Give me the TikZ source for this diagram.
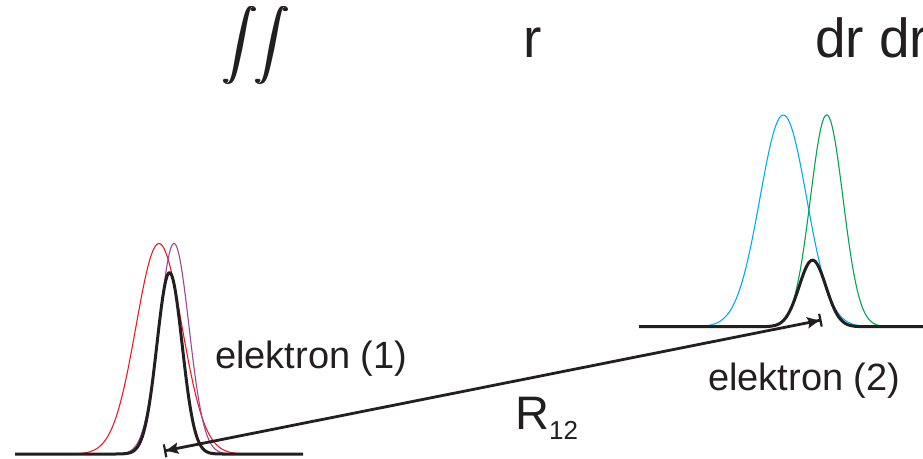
\documentclass[tikz,border=0pt]{standalone}
\usepackage{fontspec}
\setmainfont{Liberation Sans}
\usepackage{graphicx}
\usetikzlibrary{arrows.meta}
\definecolor{txt}{RGB}{35,31,32}
\definecolor{cred}{RGB}{237,28,36}
\definecolor{cpurple}{RGB}{155,70,155}
\definecolor{cblue}{RGB}{0,174,239}
\definecolor{cgreen}{RGB}{0,166,81}
\newcommand{\bigintg}{\scalebox{3.5}{$\displaystyle\int$}}
\newcommand{\boldintg}{\makebox[0pt][l]{\bigintg}\kern1.2pt\makebox[0pt][l]{\bigintg}\kern1.2pt\bigintg}
\begin{document}
\begin{tikzpicture}[x=1pt,y=-1pt,
  lbl/.style={text=txt, inner sep=0pt, anchor=base west},
  intsym/.style={text=txt, inner sep=0pt},
  thincurve/.style={line width=1.1pt},
  prod/.style={line width=3pt, draw=txt, line join=round},
  dist/.style={line width=2.8pt, draw=txt,
    {Bar[width=13pt,line width=2.2pt]Stealth[length=12pt,width=11pt,inset=2pt]}-{Stealth[length=12pt,width=11pt,inset=2pt]Bar[width=13pt,line width=2.2pt]}}]
\useasboundingbox (0,0) rectangle (923,458);

% header
\node[intsym] (int1) at (240,45.5) {\boldintg};
\node[intsym] (int2) at (272,45.5) {\boldintg};
\node[lbl] (r) at (523,57) {\fontsize{55}{60}\selectfont r};
\node[lbl] (drdr) at (815,57) {\fontsize{55}{60}\selectfont dr dr};

% left group
\draw[cred, thincurve] plot[domain=55:263, samples=140] (\x,{454-210.5*exp(-0.5*(((\x-159)/23)^2))});
\draw[cpurple, thincurve] plot[domain=106:241, samples=140] (\x,{454-210.5*exp(-0.5*(((\x-174)/15)^2))});
\draw[prod] (15,454) -- plot[domain=100:240, samples=160] (\x,{454-210.5*exp(-0.5*(((\x-159)/23)^2+((\x-174)/15)^2))}) -- (303,454);

% right group
\draw[cblue, thincurve] plot[domain=678:889, samples=140] (\x,{326.7-211.7*exp(-0.5*(((\x-783.3)/23.4)^2))});
\draw[cgreen, thincurve] plot[domain=753:900, samples=140] (\x,{326.7-211.7*exp(-0.5*(((\x-826.7)/16.3)^2))});
\draw[prod] (639,326.7) -- plot[domain=740:890, samples=160] (\x,{326.7-211.7*exp(-0.5*(((\x-783.3)/23.4)^2+((\x-826.7)/16.3)^2))}) -- (923,326.7);

% labels
\node[lbl] (el1) at (215,368) {\fontsize{38}{44}\selectfont elektron (1)};
\node[lbl] (el2) at (708,390) {\fontsize{38}{44}\selectfont elektron (2)};
\node[lbl] (r12) at (515,429) {\fontsize{47}{50}\selectfont R\raisebox{-10pt}{\fontsize{26}{28}\selectfont 12}};

% distance arrow
\coordinate (e1) at (164,451);
\coordinate (e2) at (821.5,320);
\draw[dist] (e1) -- (e2);
\end{tikzpicture}
\end{document}
